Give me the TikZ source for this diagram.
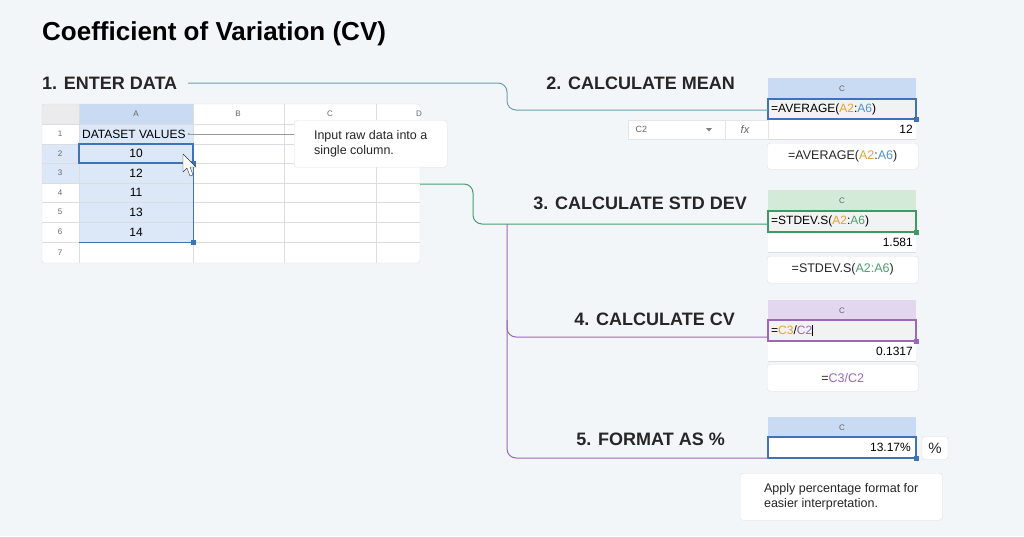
\documentclass[tikz,border=0pt]{standalone}
\usepackage{fontspec}
\setmainfont{Liberation Sans}
\usetikzlibrary{positioning}
\definecolor{bgc}{HTML}{F3F6F9}
\definecolor{gridc}{HTML}{DADDE1}
\definecolor{selb}{HTML}{DCE7F7}
\definecolor{hdrb}{HTML}{C9DAF3}
\definecolor{hdrg}{HTML}{D3EAD8}
\definecolor{hdrp}{HTML}{E3D7F0}
\definecolor{blueln}{HTML}{3F73B5}
\definecolor{greenln}{HTML}{3E9A62}
\definecolor{purpln}{HTML}{9A68B8}
\definecolor{tealln}{HTML}{6E9DB0}
\definecolor{orng}{HTML}{E5A235}
\definecolor{refb}{HTML}{4F93D2}
\definecolor{refg}{HTML}{4E9E6E}
\begin{document}
\begin{tikzpicture}[x=1pt,y=-1pt,
  steplabel/.style={font=\fontsize{18}{20}\selectfont\bfseries, text=black!85, inner sep=0pt},
  cell/.style={font=\fontsize{12}{14}\selectfont, inner sep=3pt},
  small/.style={font=\fontsize{8}{9}\selectfont, text=black!60},
  tip/.style={draw=black!12, fill=white, rounded corners=3pt, align=left, font=\fontsize{12.5}{15}\selectfont, text=black!85},
  wire/.style={line width=1pt, rounded corners=9pt},
  handle/.style={fill=#1, minimum size=5pt, inner sep=0pt}
]
\fill[bgc] (0,0) rectangle (1024,536);
\node[anchor=base west, inner sep=0pt, font=\fontsize{26}{30}\selectfont\bfseries] (title) at (42,40) {Coefficient of Variation (CV)};

% step 1: data table
\node[steplabel, anchor=west] (s1) at (42,83) {1. ENTER DATA};
\fill[white, rounded corners=3pt] (42,104) rectangle (420,263);
\fill[selb] (79,104) rectangle (193,242);
\fill[hdrb] (79,104) rectangle (193,124);
\fill[black!8] (42,104) rectangle (79,124);
\fill[selb] (42,144) rectangle (79,183);
\foreach \y in {124,144,163,183,202,222,242} \draw[gridc] (42,\y) -- (420,\y);
\foreach \x in {79,193,284,376} \draw[gridc] (\x,104) -- (\x,263);
\draw[black!12, rounded corners=3pt] (42,104) rectangle (420,263);
\foreach \c/\x in {A/136,B/238,C/330,D/419} \node[small] at (\x,114) {\c};
\foreach \r/\y in {1/134,2/153.5,3/173,4/192.5,5/212,6/232,7/252.5} \node[small] at (60,\y) {\r};
\node[cell, anchor=west] (head) at (79,134) {DATASET VALUES};
\foreach \v/\y in {10/153.5,12/173,11/192.5,13/212,14/232} \node[cell] at (136,\y) {\v};
\draw[blueln, line width=1.2pt] (79,144) rectangle (193,163);
\draw[blueln, line width=1pt] (193,163) -- (193,242) -- (79,242);
\node[handle=blueln] at (193,242) {};
\node[handle=blueln] at (193,163) {};
% mouse pointer
\draw[black!80, fill=white, line join=round] (183,154) -- (183,172) -- (187,168) -- (190,176) -- (193,175) -- (190,167) -- (196,167) -- cycle;
\node[tip, minimum width=153pt, minimum height=47pt, anchor=north west, inner sep=8pt] (tip1) at (294,120) {Input raw data into a\\single column.};
\draw[black!40] (tip1.west |- head) -- (head.east) node[circle, fill=black!40, inner sep=0.8pt] {};

% right-hand cells
\foreach \t/\col in {78/hdrb,190/hdrg,300/hdrp,417/hdrb}{
  \fill[white] (768,\t) rectangle (916,\t+62);
  \fill[\col] (768,\t) rectangle (916,\t+21);
  \node[small] at (842,\t+10.5) {C};
}
\coordinate (m) at (768,110);
\coordinate (s) at (768,224);
\coordinate (v) at (768,337);
\coordinate (p) at (768,458);
\fill[bgc] (768,458) rectangle (916,480);
\fill[black!5] (768,99) rectangle (916,119);
\fill[black!5] (768,211) rectangle (916,232);
\fill[black!5] (768,320) rectangle (916,341);
\draw[gridc] (768,139) -- (916,139) (768,252) -- (916,252) (768,361) -- (916,361);

\node[cell, anchor=west] at (768,109) {=AVERAGE(\textcolor{orng}{A2}:\textcolor{refb}{A6})};
\node[cell, anchor=east] at (916,129) {12};
\draw[blueln, line width=1.2pt] (768,99) rectangle (916,119);
\node[handle=blueln] at (916,119) {};
\fill[white] (628,120) rectangle (768,139);
\draw[black!10] (628,120) rectangle (768,139) (725,120) -- (725,139);
\node[small, anchor=west, font=\fontsize{9}{10}\selectfont] at (632,129.5) {C2};
\fill[black!50] (706,128) -- (712,128) -- (709,131.5) -- cycle;
\node[small, font=\fontsize{11}{12}\selectfont\itshape] at (745,129.5) {fx};
\node[tip, minimum width=151pt, minimum height=26pt, anchor=north west] (t2) at (767,143) {=AVERAGE(\textcolor{orng}{A2}:\textcolor{refb}{A6})};

\node[cell, anchor=west] at (768,221.5) {=STDEV.S(\textcolor{orng}{A2}:\textcolor{refg}{A6})};
\node[cell, anchor=east] at (916,242) {1.581};
\draw[greenln, line width=1.2pt] (768,211) rectangle (916,232);
\node[handle=greenln] at (916,232) {};
\node[tip, minimum width=151pt, minimum height=27pt, anchor=north west] (t3) at (767,256) {=STDEV.S(\textcolor{refg}{A2:A6})};

\node[cell, anchor=west] at (768,330.5) {=\textcolor{orng}{C3}/\textcolor{purpln}{C2}\rule[-2pt]{0.6pt}{11pt}};
\node[cell, anchor=east] at (916,351) {0.1317};
\draw[purpln, line width=1.2pt] (768,320) rectangle (916,341);
\node[handle=purpln] at (916,341) {};
\node[tip, minimum width=151pt, minimum height=27pt, anchor=north west] (t4) at (767,364) {=\textcolor{purpln}{C3/C2}};

\node[cell, anchor=east] at (914,447.5) {13.17\%};
\draw[blueln, line width=1.2pt] (768,437) rectangle (916,458);
\node[handle=blueln] at (916,458) {};
\node[tip, minimum width=26pt, minimum height=23pt, inner sep=0pt, font=\fontsize{15}{16}\selectfont] (pct) at (935,448) {\%};
\node[tip, minimum width=202pt, minimum height=47pt, anchor=north west, inner sep=8pt] (t5) at (740,473) {Apply percentage format for\\easier interpretation.};

% step labels
\node[steplabel, anchor=east] (s2) at (735,83) {2. CALCULATE MEAN};
\node[steplabel, anchor=east] (s3) at (747,203) {3. CALCULATE STD DEV};
\node[steplabel, anchor=east] (s4) at (735,319) {4. CALCULATE CV};
\node[steplabel, anchor=east] (s5) at (725,439) {5. FORMAT AS \%};

% connectors
\coordinate (tabr) at (420,184);
\coordinate (s1r) at (188,83);
\draw[wire, tealln] (s1r) -- (507,83) -- (507,110) -- (m);
\draw[wire, greenln!80!tealln] (tabr) -- (473,184) -- (473,224) -- (s);
\draw[wire, purpln] (507,224) -- (507,337) -- (v);
\draw[wire, purpln] (507,320) -- (507,458) -- (p);
\end{tikzpicture}
\end{document}
